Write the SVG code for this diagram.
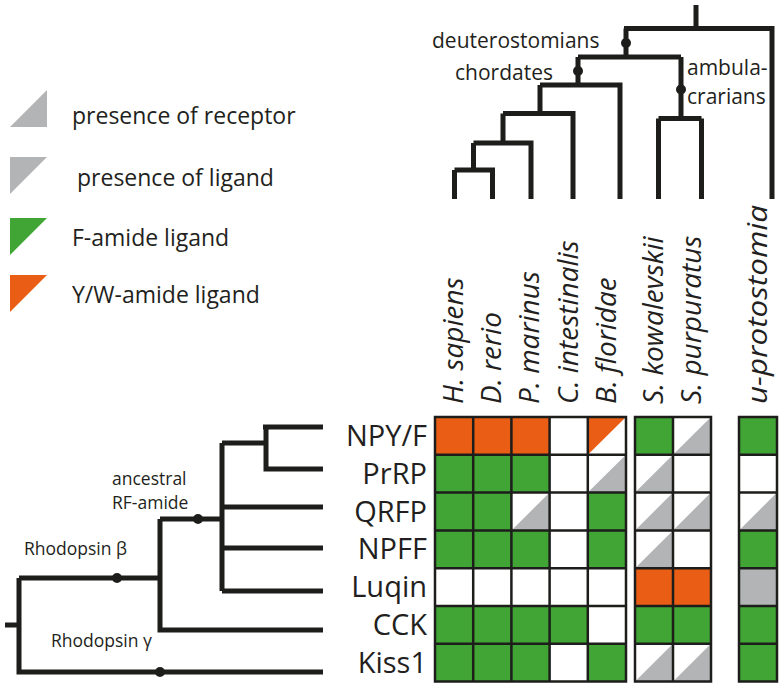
<svg xmlns="http://www.w3.org/2000/svg" width="784" height="689" viewBox="0 0 784 689">
<style>
.t{font-family:"Open Sans","Noto Sans","Liberation Sans",sans-serif;fill:#231f20}
.leg{font-size:23px}
.tl{font-size:21px}
.sm{font-size:17.5px}
.row{font-size:29px;text-anchor:end}
.col{font-size:28px;font-style:italic}
.br{fill:none;stroke:#1d1d1b;stroke-width:5;stroke-linecap:butt;stroke-linejoin:miter}
.dot{fill:#1d1d1b}
.G{fill:#41a535}
.O{fill:#e95e14}
.Y{fill:#b3b4b6}
.W{fill:#ffffff}
.grid{fill:none;stroke:#1d1d1b;stroke-width:2.5}
</style>
<rect width="784" height="689" fill="#ffffff"/>

<!-- Legend -->
<g id="legend-receptor">
<polygon class="Y" points="10,127 47,90 47,127"/>
<text class="t leg" x="72" y="124">presence of receptor</text>
</g>
<g id="legend-ligand">
<polygon class="Y" points="10,157 47,157 10,194"/>
<text class="t leg" x="77" y="186">presence of ligand</text>
</g>
<g id="legend-famide">
<polygon class="G" points="10,218 47,218 10,255"/>
<text class="t leg" x="72" y="246">F-amide ligand</text>
</g>
<g id="legend-ywamide">
<polygon class="O" points="10,275 47,275 10,312"/>
<text class="t leg" x="72" y="303">Y/W-amide ligand</text>
</g>

<!-- Connectors: species tree and receptor tree -->
<g id="connectors">
<g id="species-tree">
<path class="br" d="M696,5 V28.5 M624,28.5 H772 V199 M626,28.5 V57 M578,57 H681 M578,57 V85 M681,57 V118.5 M658.5,118.5 H701.5 M658.5,118.5 V199 M701.5,118.5 V199 M540,85 H620 V199 M540,85 V113.5 M503,113.5 H573 V199 M503,113.5 V143 M473.5,143 H531 V199 M473.5,143 V170 M454.5,170 H492.5 V199 M454.5,170 V199"/>
<circle class="dot" cx="626" cy="43" r="5"/>
<circle class="dot" cx="578" cy="71" r="5"/>
<circle class="dot" cx="681" cy="89.5" r="5"/>
</g>
<g id="receptor-tree">
<path class="br" d="M263,427 H266 V469 H323 M266,427 H323 M222,443 H266 M222,443 V591 M222,507 H323 M222,548 H323 M222,591 H323 M160,519 H222 M160,519 V630 H323 M19,578 H160 M19,578 V672 H323 M5,625 H19"/>
<circle class="dot" cx="198" cy="519" r="5"/>
<circle class="dot" cx="117" cy="578" r="5"/>
<circle class="dot" cx="160" cy="672" r="5"/>
</g>
</g>

<!-- Tree labels -->
<g id="label-deuterostomians"><text class="t tl" x="432" y="48">deuterostomians</text></g>
<g id="label-chordates"><text class="t tl" x="455" y="80">chordates</text></g>
<g id="label-ambulacrarians"><text class="t tl" x="687" y="75">ambula-</text><text class="t tl" x="687" y="104">crarians</text></g>
<g id="label-ancestral"><text class="t sm" x="112" y="485">ancestral</text><text class="t sm" x="112" y="509">RF-amide</text></g>
<g id="label-rhodopsin-beta"><text class="t sm" x="24" y="555">Rhodopsin β</text></g>
<g id="label-rhodopsin-gamma"><text class="t sm" x="51" y="647">Rhodopsin γ</text></g>

<!-- Column labels -->
<g id="col-labels">
<text class="t col" transform="translate(463,404) rotate(-90)">H. sapiens</text>
<text class="t col" transform="translate(501,404) rotate(-90)">D. rerio</text>
<text class="t col" transform="translate(539,404) rotate(-90)">P. marinus</text>
<text class="t col" transform="translate(578,404) rotate(-90)">C. intestinalis</text>
<text class="t col" transform="translate(616,404) rotate(-90)">B. floridae</text>
<text class="t col" transform="translate(663,404) rotate(-90)">S. kowalevskii</text>
<text class="t col" transform="translate(701,404) rotate(-90)">S. purpuratus</text>
<text class="t col" transform="translate(767,404) rotate(-90)" textLength="199" lengthAdjust="spacingAndGlyphs">u-protostomia</text>
</g>

<!-- Row labels -->
<g id="row-labels">
<text class="t row" x="427" y="446">NPY/F</text>
<text class="t row" x="427" y="484">PrRP</text>
<text class="t row" x="427" y="522">QRFP</text>
<text class="t row" x="427" y="559">NPFF</text>
<text class="t row" x="427" y="597">Luqin</text>
<text class="t row" x="427" y="635">CCK</text>
<text class="t row" x="427" y="673">Kiss1</text>
</g>

<!-- Matrix -->
<g id="matrix">
<rect class="O" x="435" y="417" width="114.6" height="37.8"/>
<polygon class="O" points="587.8,417 626,417 587.8,454.8"/>
<rect class="G" x="635" y="417" width="38" height="37.8"/>
<polygon class="Y" points="673,454.8 711,417 711,454.8"/>
<rect class="G" x="739" y="417" width="38" height="37.8"/>
<rect class="G" x="435" y="454.8" width="114.6" height="37.8"/>
<polygon class="Y" points="587.8,492.6 626,454.8 626,492.6"/>
<polygon class="Y" points="635,492.6 673,454.8 673,492.6"/>
<rect class="G" x="435" y="492.6" width="76.4" height="37.8"/>
<polygon class="Y" points="511.4,530.4 549.6,492.6 549.6,530.4"/>
<rect class="G" x="587.8" y="492.6" width="38.2" height="37.8"/>
<polygon class="Y" points="635,530.4 673,492.6 673,530.4"/>
<polygon class="Y" points="673,530.4 711,492.6 711,530.4"/>
<polygon class="Y" points="739,530.4 777,492.6 777,530.4"/>
<rect class="G" x="435" y="530.4" width="114.6" height="37.8"/>
<rect class="G" x="587.8" y="530.4" width="38.2" height="37.8"/>
<polygon class="Y" points="635,568.2 673,530.4 673,568.2"/>
<rect class="G" x="739" y="530.4" width="38" height="37.8"/>
<rect class="O" x="635" y="568.2" width="76" height="37.8"/>
<rect class="Y" x="739" y="568.2" width="38" height="37.8"/>
<rect class="G" x="435" y="606" width="152.8" height="37.8"/>
<rect class="G" x="635" y="606" width="76" height="37.8"/>
<rect class="G" x="739" y="606" width="38" height="37.8"/>
<rect class="G" x="435" y="643.8" width="114.6" height="37.8"/>
<rect class="G" x="587.8" y="643.8" width="38.2" height="37.8"/>
<polygon class="Y" points="635,681.6 673,643.8 673,681.6"/>
<polygon class="Y" points="673,681.6 711,643.8 711,681.6"/>
<rect class="G" x="739" y="643.8" width="38" height="37.8"/>
<path class="grid" d="M435,417 H626 V681.6 H435 Z M473.2,417 V681.6 M511.4,417 V681.6 M549.6,417 V681.6 M587.8,417 V681.6 M435,454.8 H626 M435,492.6 H626 M435,530.4 H626 M435,568.2 H626 M435,606 H626 M435,643.8 H626"/>
<path class="grid" d="M635,417 H711 V681.6 H635 Z M673,417 V681.6 M635,454.8 H711 M635,492.6 H711 M635,530.4 H711 M635,568.2 H711 M635,606 H711 M635,643.8 H711"/>
<path class="grid" d="M739,417 H777 V681.6 H739 Z M739,454.8 H777 M739,492.6 H777 M739,530.4 H777 M739,568.2 H777 M739,606 H777 M739,643.8 H777"/>
</g>
</svg>
